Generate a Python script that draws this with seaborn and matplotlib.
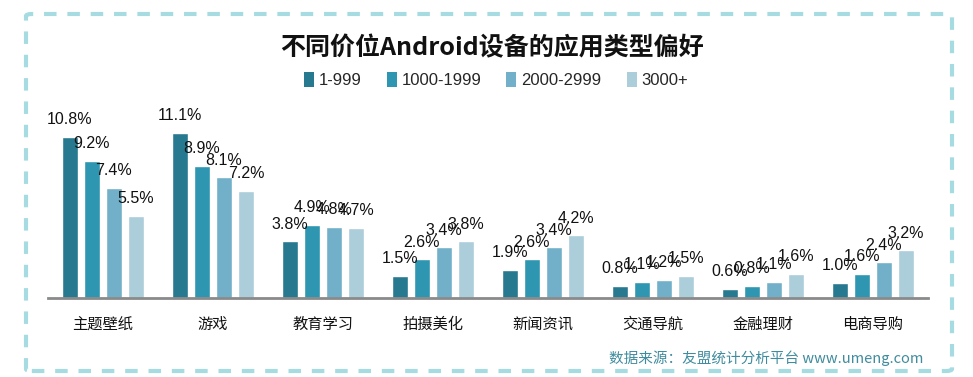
import pandas as pd
import seaborn as sns
import matplotlib.pyplot as plt
from matplotlib.patches import FancyBboxPatch, Patch

categories = ["主题壁纸", "游戏", "教育学习", "拍摄美化", "新闻资讯", "交通导航", "金融理财", "电商导购"]
tiers = ["1-999", "1000-1999", "2000-2999", "3000+"]
share_1_999 = [10.8, 11.1, 3.8, 1.5, 1.9, 0.8, 0.6, 1.0]
share_1000_1999 = [9.2, 8.9, 4.9, 2.6, 2.6, 1.1, 0.8, 1.6]
share_2000_2999 = [7.4, 8.1, 4.8, 3.4, 3.4, 1.2, 1.1, 2.4]
share_3000_plus = [5.5, 7.2, 4.7, 3.8, 4.2, 1.5, 1.6, 3.2]
colors = ["#27798F", "#2E96B1", "#72B0C9", "#ACCDDA"]

sns.set_style("white")
plt.rcParams['font.family'] = ['Noto Sans CJK SC', 'DejaVu Sans']

rows = []
for tier, vals in zip(tiers, [share_1_999, share_1000_1999, share_2000_2999, share_3000_plus]):
    for cat, v in zip(categories, vals):
        rows.append({'category': cat, 'tier': tier, 'value': v})
df = pd.DataFrame(rows)

W, H = 973, 377
fig = plt.figure(figsize=(W / 100, H / 100), dpi=100)
ax = fig.add_axes([48 / W, 1 - 298 / H, 880 / W, 198 / H])

sns.barplot(data=df, x='category', y='value', hue='tier', palette=colors,
            order=categories, hue_order=tiers, width=0.8, gap=0.23,
            saturation=1, legend=False, ax=ax)

for cont in ax.containers:
    ax.bar_label(cont, labels=[f"{v:.1f}%" for v in cont.datavalues],
                 padding=7, fontsize=11.5, family='Liberation Sans', color='#111111')

ax.set_ylim(0, 13.3)
ax.set_xlim(-0.5, 7.5)
ax.set_xlabel("")
ax.set_ylabel("")
ax.set_yticks([])
for s in ['top', 'right', 'left']:
    ax.spines[s].set_visible(False)
ax.spines['bottom'].set_color('#8a8a8a')
ax.spines['bottom'].set_linewidth(2)
ax.tick_params(axis='x', length=0, pad=13, labelsize=11, labelcolor='#111111')

fig.text(492 / W, 1 - 48 / H, "不同价位Android设备的应用类型偏好", ha='center', va='center',
         fontsize=18, fontweight='bold', color='#111111')

handles = [Patch(facecolor=c, edgecolor='none') for c in colors]
fig.legend(handles, tiers, loc='center', bbox_to_anchor=(496 / W, 1 - 80 / H), ncol=4,
           frameon=False, prop={'family': 'Liberation Sans', 'size': 12},
           handlelength=0.6, handleheight=1.0, handletextpad=0.3, columnspacing=1.5)

fig.text(923 / W, 1 - 358 / H, "数据来源：友盟统计分析平台 www.umeng.com", ha='right', va='center',
         fontsize=10.5, color='#3F8C9E')

border = FancyBboxPatch((26 / W, 1 - 371 / H), 926 / W, 357 / H,
                        boxstyle="round,pad=0,rounding_size=0.006", transform=fig.transFigure,
                        fill=False, edgecolor='#A6DBE2', linewidth=3,
                        linestyle=(0, (3, 2.6)))
fig.patches.append(border)

fig.savefig("out.png", dpi=100)
